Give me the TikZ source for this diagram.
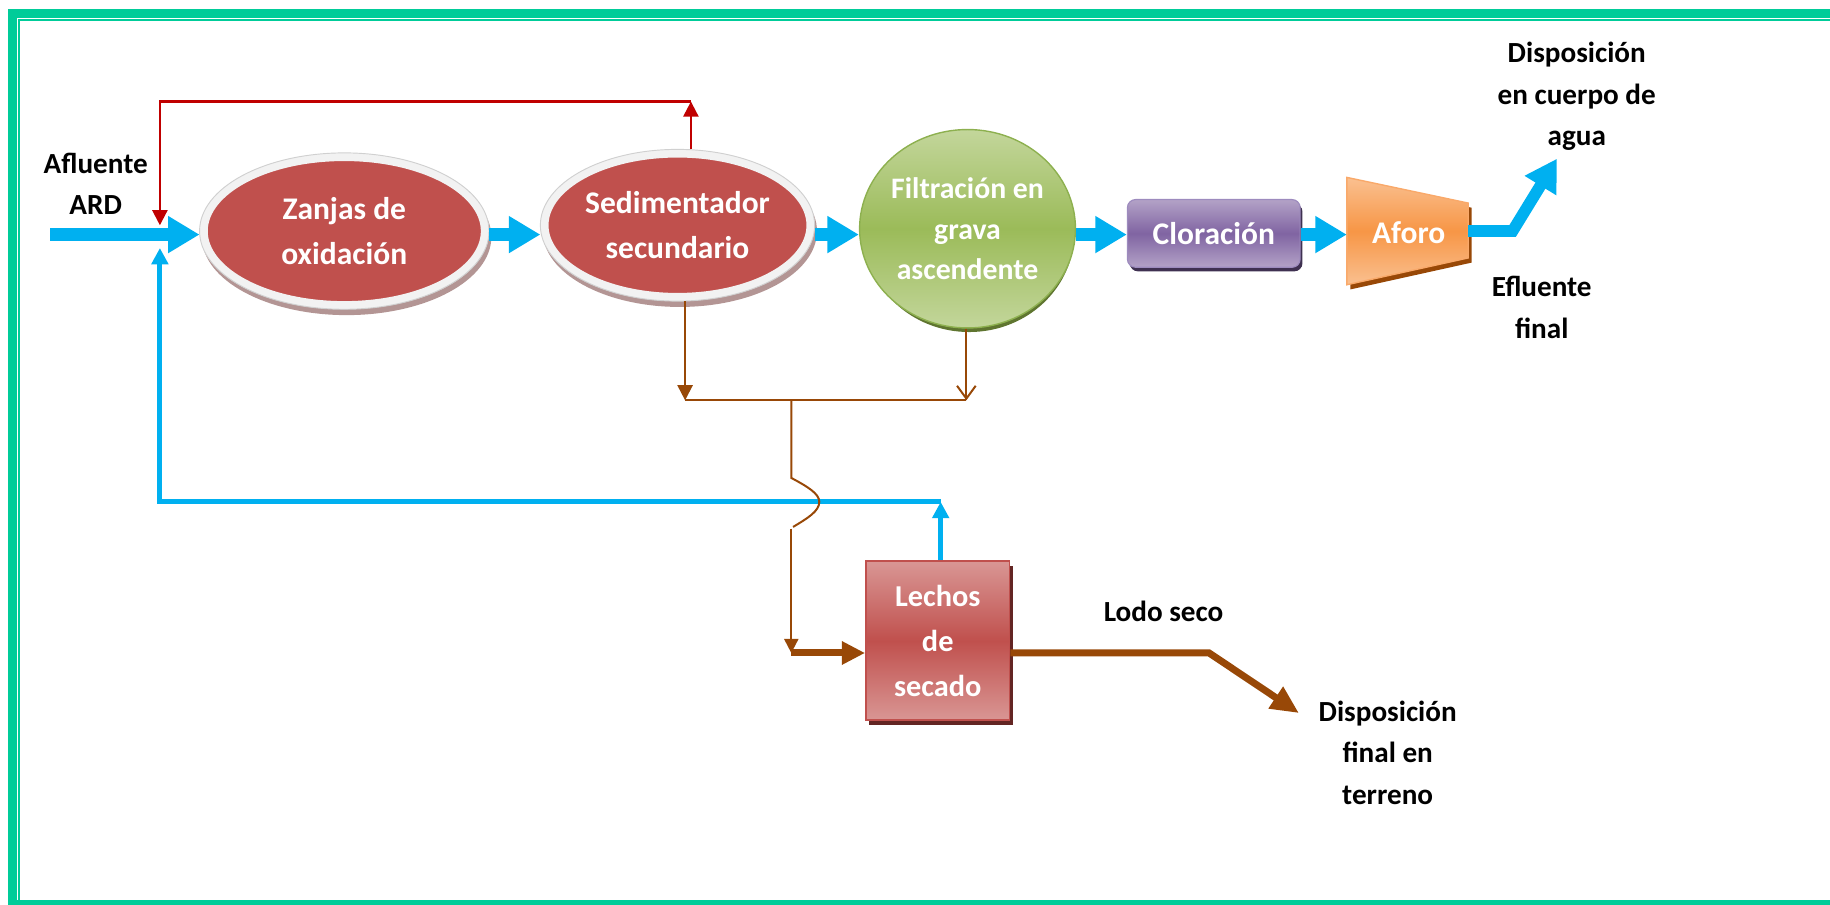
\documentclass[tikz,border=0pt]{standalone}
\usepackage{fontspec}
\setmainfont{Carlito}
\usetikzlibrary{arrows.meta,shapes.geometric,calc,shadows}
\definecolor{flowblue}{HTML}{00B0F0}
\definecolor{flowred}{HTML}{C00000}
\definecolor{flowbrown}{HTML}{984807}
\definecolor{framegreen}{HTML}{00CC99}
\definecolor{ellred}{HTML}{C0504D}
\definecolor{rimc}{HTML}{F2F2F2}
\definecolor{rimline}{HTML}{D0D0D0}
\definecolor{rimshadow}{HTML}{B39594}
\definecolor{grlight}{HTML}{C3D69B}
\definecolor{grmid}{HTML}{9BBB59}
\definecolor{grline}{HTML}{8DB04F}
\definecolor{grshadow}{HTML}{5F7530}
\definecolor{pulight}{HTML}{B3A2C7}
\definecolor{pumid}{HTML}{8064A2}
\definecolor{puline}{HTML}{9D8BBE}
\definecolor{pushadow}{HTML}{3F3151}
\definecolor{orlight}{HTML}{FAC090}
\definecolor{ormid}{HTML}{F79646}
\definecolor{orline}{HTML}{F9A96A}
\definecolor{orshadow}{HTML}{984807}
\definecolor{lelight}{HTML}{D99694}
\definecolor{leline}{HTML}{C0504D}
\definecolor{leshadow}{HTML}{632523}
\begin{document}
\begin{tikzpicture}[x=1pt,y=-1pt,
  boxfont/.style={font=\fontsize{27}{38.5}\selectfont\bfseries},
  lab/.style={font=\fontsize{25}{35.5}\selectfont\bfseries, align=center, inner sep=0pt, text=black},
  redell/.style={ellipse, fill=ellred, draw=rimc, line width=7pt, text=white, boxfont, align=center, inner sep=0pt},
  bluearrow/.style={draw=flowblue, line width=11.5pt, -{Triangle[length=27pt,width=30pt]}},
  blueline/.style={draw=flowblue, line width=4.3pt, line join=miter, -{Triangle[length=14pt,width=14pt]}},
  redline/.style={draw=flowred, line width=1.8pt, -{Triangle[length=13pt,width=13pt]}},
  brownthin/.style={draw=flowbrown, line width=1.7pt},
  brownthick/.style={draw=flowbrown, line width=6pt, -{Triangle[length=20pt,width=19pt]}},
  brownout/.style={draw=flowbrown, line width=6pt, -{Triangle[length=24pt,width=21pt]}}
]
\useasboundingbox (0,0) rectangle (1568,775);
% frame
\fill[framegreen] (6.9,7.7) rectangle (1568,15.4);
\fill[framegreen] (6.9,7.7) rectangle (14.3,775);
\fill[framegreen] (6.9,771) rectangle (1568,775);
\draw[framegreen, line width=1.7pt] (1568,17.1) -- (16,17.1) -- (16,771);

% Zanjas de oxidacion
\coordinate (zanC) at (295,198);
\fill[rimshadow] ($(zanC)+(2,5)$) ellipse [x radius=124, y radius=67];
\node[redell, minimum width=241pt, minimum height=127pt] (zan) at (zanC) {Zanjas de\\oxidación};
\draw[rimline, line width=0.8pt] (zanC) ellipse [x radius=124, y radius=67];

% Sedimentador secundario
\coordinate (sedC) at (580.5,193);
\fill[rimshadow] ($(sedC)+(2,5)$) ellipse [x radius=117.5, y radius=65];
\node[redell, minimum width=228pt, minimum height=123pt] (sed) at (sedC) {Sedimentador\\secundario};
\draw[rimline, line width=0.8pt] (sedC) ellipse [x radius=117.5, y radius=65];

% Filtracion
\coordinate (filC) at (829,196);
\fill[grshadow] ($(filC)+(1.5,3.5)$) ellipse [x radius=90, y radius=85];
\node[ellipse, minimum width=180pt, minimum height=170pt, inner sep=0pt, draw=grline, line width=1.2pt,
  top color=grlight, bottom color=grlight, middle color=grmid, text=white,
  font=\fontsize{25.5}{35}\selectfont\bfseries, align=center] (fil) at (filC) {Filtración en\\grava\\ascendente};

% Cloracion
\node[rectangle, rounded corners=7pt, minimum width=148pt, minimum height=58pt, draw=puline, line width=1pt,
  drop shadow={shadow xshift=2pt, shadow yshift=-3.5pt, fill=pushadow, opacity=1},
  top color=pulight, bottom color=pulight, middle color=pumid, text=white, boxfont] (clor) at (1040,200) {Cloración};

% Aforo
\fill[orshadow] (1157,156) -- (1261,178) -- (1261,225) -- (1157,248) -- cycle;
\path[top color=orlight, bottom color=orlight, middle color=ormid, draw=orline, line width=1.2pt]
  (1154,152) -- (1258,174) -- (1258,221) -- (1154,244) -- cycle;
\node[text=white, boxfont, inner sep=0pt] (aforo) at (1207,199) {Aforo};
\coordinate (aforoL) at (1154,201);
\coordinate (aforoR) at (1258,198);

% Lechos de secado
\node[rectangle, minimum width=123pt, minimum height=136pt, draw=leline, line width=1.5pt,
  drop shadow={shadow xshift=3pt, shadow yshift=-4pt, fill=leshadow, opacity=1},
  top color=lelight, bottom color=lelight, middle color=ellred, text=white,
  font=\fontsize{26}{38.5}\selectfont\bfseries, align=center, inner sep=0pt] (lech) at (803.5,549) {Lechos\\de\\secado};

% labels
\node[lab] (afl) at (82,157.5) {Afluente\\ARD};
\node[lab] (dcu) at (1351,82.5) {Disposición\\en cuerpo de\\agua};
\node[lab] (efl) at (1321,263.5) {Efluente\\final};
\node[lab] (lodo) at (997,524) {Lodo seco};
\node[lab] (dter) at (1189,645) {Disposición\\final en\\terreno};

% main blue flow
\coordinate (inStart) at (43,201);
\draw[bluearrow] (inStart) -- (inStart -| zan.west);
\draw[bluearrow] (zan.east |- inStart) -- (sed.west |- inStart);
\draw[bluearrow] (sed.east |- inStart) -- (fil.west |- inStart);
\draw[bluearrow] (fil.east |- inStart) -- (clor.west |- inStart);
\draw[bluearrow] (clor.east |- inStart) -- (aforoL);
\coordinate (outKink) at (1296,198);
\coordinate (outTip) at (1334,136);
\draw[bluearrow, line width=10pt, line join=miter] (aforoR) -- (outKink) -- (outTip);

% red recirculation
\coordinate (redX) at (592,0);
\coordinate (redTop) at (592,87);
\coordinate (redLeft) at (137,87);
\coordinate (redEnd) at (137,193);
\draw[redline] (sed.north -| redX) -- (redTop);
\draw[redline] (redTop) -- (redLeft) -- (redEnd);

% blue return from drying beds
\coordinate (bX) at (806,0);
\coordinate (bTop) at (806,430);
\coordinate (bLeft) at (137,430);
\coordinate (bEnd) at (137,212.5);
\draw[blueline] (lech.north -| bX) -- (bTop);
\draw[blueline] (bTop) -- (bLeft) -- (bEnd);

% sludge lines
\coordinate (bj1) at (587,343);
\coordinate (bj2) at (828,343);
\coordinate (bj) at (678,343);
\draw[brownthin, -{Triangle[length=13pt,width=13pt]}] (sed.south -| bj1) -- (bj1);
\draw[brownthin, -{Straight Barb[length=11pt,width=16pt]}] (fil.south -| bj2) -- (bj2);
\draw[brownthin] (bj1) -- (bj2);
\coordinate (hopA) at (678,409.5);
\coordinate (hopM) at (702,430);
\coordinate (hopB) at (679.5,451.5);
\coordinate (hopC) at (678,453);
\coordinate (bDown) at (678,559.5);
\draw[brownthin] (bj) -- (hopA) .. controls (692,417) and (702,423) .. (hopM) .. controls (702,438) and (692,444) .. (hopB);
\draw[brownthin, -{Triangle[length=12pt,width=12pt]}] (hopC) -- (bDown);
\draw[brownthick] (bDown) -- (lech.west |- bDown);
\coordinate (lodoKink) at (1036,559.5);
\coordinate (lodoTip) at (1113,611);
\draw[brownout] (lech.east |- bDown) -- (lodoKink) -- (lodoTip);
\end{tikzpicture}
\end{document}
